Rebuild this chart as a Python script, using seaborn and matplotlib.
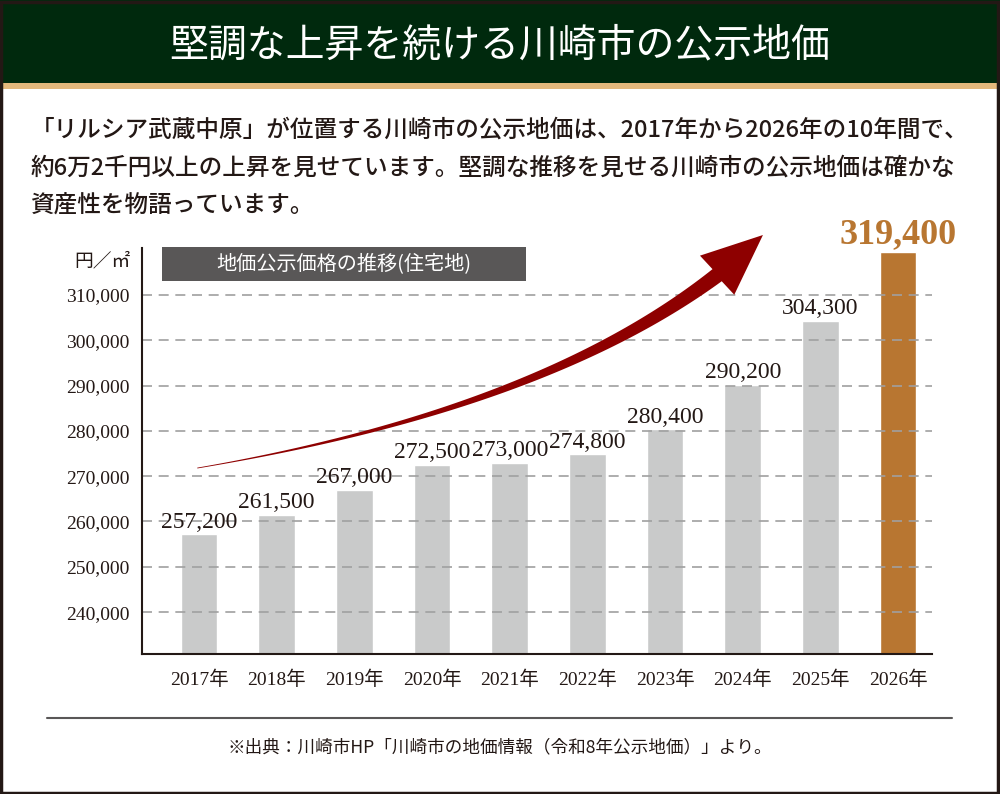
import numpy as np
import seaborn as sns
import matplotlib.pyplot as plt
from matplotlib.patches import Rectangle, Polygon
from matplotlib.transforms import IdentityTransform

# data
years = ['2017年', '2018年', '2019年', '2020年', '2021年',
         '2022年', '2023年', '2024年', '2025年', '2026年']
prices = [257200, 261500, 267000, 272500, 273000, 274800, 280400, 290200, 304300, 319400]
yticks = [240000, 250000, 260000, 270000, 280000, 290000, 300000, 310000]

title = '堅調な上昇を続ける川崎市の公示地価'
lead = ['「リルシア武蔵中原」が位置する川崎市の公示地価は、2017年から2026年の10年間で、',
        '約6万2千円以上の上昇を見せています。堅調な推移を見せる川崎市の公示地価は確かな',
        '資産性を物語っています。']
box_label = '地価公示価格の推移(住宅地)'
unit = '円／㎡'
source = '※出典：川崎市HP「川崎市の地価情報（令和8年公示地価）」より。'

GRAY = '#c9caca'
ORANGE = '#b87631'
GREEN = '#00290d'
GOLD = '#e3b87c'
DARK = '#231815'
RED = '#8e0000'

sns.set_theme(style='white')
plt.rcParams['font.family'] = ['Liberation Serif', 'Noto Sans CJK JP']
jp = ['Noto Sans CJK JP']

W, H = 1000, 794
fig = plt.figure(figsize=(W / 100, H / 100), dpi=100)
fig.patch.set_facecolor('white')

def fy(py):
    return 1 - py / H

# header band + gold stripe
fig.add_artist(Rectangle((0, fy(83)), 1, 83 / H, transform=fig.transFigure,
                         facecolor=GREEN, edgecolor='none', zorder=0))
fig.add_artist(Rectangle((0, fy(89)), 1, 6 / H, transform=fig.transFigure,
                         facecolor=GOLD, edgecolor='none', zorder=0))
fig.text(0.5, fy(45), title, color='white', fontsize=28, family=jp,
         ha='center', va='center')

# lead paragraph
for i, line in enumerate(lead):
    fig.text(0.031, fy(130 + 38 * i), line, fontsize=17, family=jp,
             weight='medium', color=DARK, ha='left', va='center')

# chart
ax = fig.add_axes([0.142, 1 - 654 / H, 0.79, 406 / H])
colors = [GRAY] * (len(years) - 1) + [ORANGE]
sns.barplot(x=years, y=prices, hue=years, palette=colors, legend=False,
            width=0.47, saturation=1, ax=ax, zorder=1)

ax.set_xlim(-0.734, 9.437)
ax.set_ylim(230750, 320375)
ax.set_yticks(yticks)
ax.set_yticklabels([f'{v:,}' for v in yticks])
ax.set_xlabel('')
ax.set_ylabel('')
ax.tick_params(axis='y', length=0, pad=9, labelsize=14, labelcolor=DARK)
ax.tick_params(axis='x', length=0, pad=12, labelsize=14, labelcolor=DARK)

for v in yticks:
    ax.axhline(v, color='#a0a0a0', lw=1.2, ls=(0, (6, 4)), zorder=2)

for s in ['top', 'right']:
    ax.spines[s].set_visible(False)
for s in ['left', 'bottom']:
    ax.spines[s].set_color(DARK)
    ax.spines[s].set_linewidth(1.5)

for i, v in enumerate(prices):
    last = i == len(prices) - 1
    ax.annotate(f'{v:,}', (i, v), xytext=(0, 1),
                textcoords='offset points', ha='center', va='bottom',
                fontsize=26 if last else 17, color=ORANGE if last else DARK,
                weight='bold' if last else 'normal', annotation_clip=False)

# curved arrow (decoration), built in pixel space from axes-fraction anchors
p0, p1, p2, tip = ax.transAxes.transform([(0.07, 0.458), (0.504, 0.601),
                                          (0.728, 0.933), (0.786, 1.032)])
t = np.linspace(0, 1, 80)[:, None]
curve = (1 - t) ** 2 * p0 + 2 * (1 - t) * t * p1 + t ** 2 * p2
deriv = 2 * (1 - t) * (p1 - p0) + 2 * t * (p2 - p1)
deriv /= np.linalg.norm(deriv, axis=1, keepdims=True)
normal = np.column_stack([-deriv[:, 1], deriv[:, 0]])
half = 0.4 + 7.2 * t ** 1.3
side_a = curve + normal * half
side_b = curve - normal * half
hd = (tip - p2) / np.linalg.norm(tip - p2)
hn = np.array([-hd[1], hd[0]])
head = [p2 + hn * 26, tip, p2 - hn * 26]
poly = np.vstack([side_a, head, side_b[::-1]])
ax.add_patch(Polygon(poly, closed=True, facecolor=RED, edgecolor='none',
                     transform=IdentityTransform(), clip_on=False, zorder=4))

# label box and unit
fig.add_artist(Rectangle((0.162, fy(281)), 0.364, 34 / H, transform=fig.transFigure,
                         facecolor='#595757', edgecolor='none'))
fig.text(0.344, fy(264), box_label, color='white', fontsize=14.5, family=jp,
         ha='center', va='center')
fig.text(0.131, fy(261), unit, color=DARK, fontsize=13.5, family=jp,
         ha='right', va='center')

# source line
fig.add_artist(plt.Line2D([0.047, 0.952], [fy(718), fy(718)], transform=fig.transFigure,
                          color='#595757', lw=1.5))
fig.text(0.5, fy(747), source, color=DARK, fontsize=12.7, family=jp,
         ha='center', va='center')

# outer frame
fig.add_artist(Rectangle((0.001, 0.001), 0.997, 0.997, transform=fig.transFigure,
                         facecolor='none', edgecolor=DARK, lw=2.5, zorder=10))

fig.savefig('out.png', dpi=100)
